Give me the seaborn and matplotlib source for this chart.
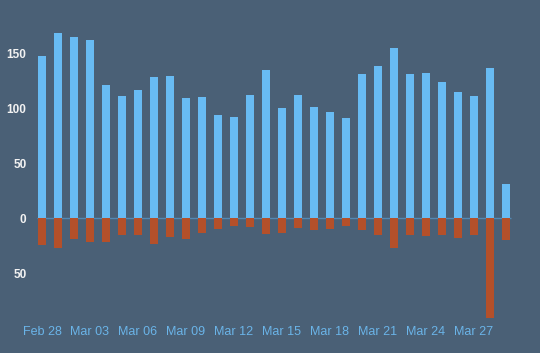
import pandas as pd
import numpy as np
import matplotlib
matplotlib.use('Agg')
import matplotlib.pyplot as plt
import seaborn as sns

# Daily values
dates = pd.date_range('2023-02-28', '2023-03-29', freq='D')
positive = [147, 168, 165, 162, 121, 111, 116, 128, 129, 109,
            110, 94, 92, 112, 135, 100, 112, 101, 96, 91,
            131, 138, 155, 131, 132, 124, 115, 111, 136, 31]
negative = [24, 27, 19, 22, 22, 15, 15, 23, 17, 19,
            13, 10, 7, 8, 14, 13, 9, 11, 10, 7,
            11, 15, 27, 15, 16, 15, 18, 15, 91, 20]

labels = [d.strftime('%b %d') for d in dates]
df = pd.DataFrame({'day': labels, 'pos': positive, 'neg': [-v for v in negative]})

bg = '#4a6076'
sns.set_theme(style='dark', rc={'axes.facecolor': bg, 'figure.facecolor': bg})
plt.rcParams['font.family'] = ['Liberation Sans', 'DejaVu Sans']

fig = plt.figure(figsize=(5.4, 3.53), dpi=100)
ax = fig.add_axes([32 / 540, 28 / 353, 488 / 540, 305 / 353])

sns.barplot(data=df, x='day', y='pos', color='#68bbf3', saturation=1, width=0.55,
            linewidth=0, ax=ax)
sns.barplot(data=df, x='day', y='neg', color='#b4502a', saturation=1, width=0.55,
            linewidth=0, ax=ax)
# thin baseline only under the bars
ax.hlines(0, -0.3, len(labels) - 0.7, color='#5288b3', lw=1, zorder=0.5)

ax.set_xlim(-0.625, 29.875)
ax.set_ylim(-97, 180)

ticks = list(range(0, len(labels), 3))
ax.set_xticks(ticks)
ax.set_xticklabels([labels[i] for i in ticks], color='#6ab4e8', fontsize=9)
yt = [50, 0, 50, 100, 150]
ax.set_yticks([-50, 0, 50, 100, 150])
ax.set_yticklabels([str(v) for v in yt], color='#f2f2f2', fontsize=8.5, fontweight='bold')
ax.tick_params(axis='x', length=0, pad=1)
ax.tick_params(axis='y', length=0, pad=4)
ax.set_xlabel('')
ax.set_ylabel('')
ax.grid(False)
for s in ax.spines.values():
    s.set_visible(False)

fig.savefig('out.png', dpi=100, facecolor=bg)
